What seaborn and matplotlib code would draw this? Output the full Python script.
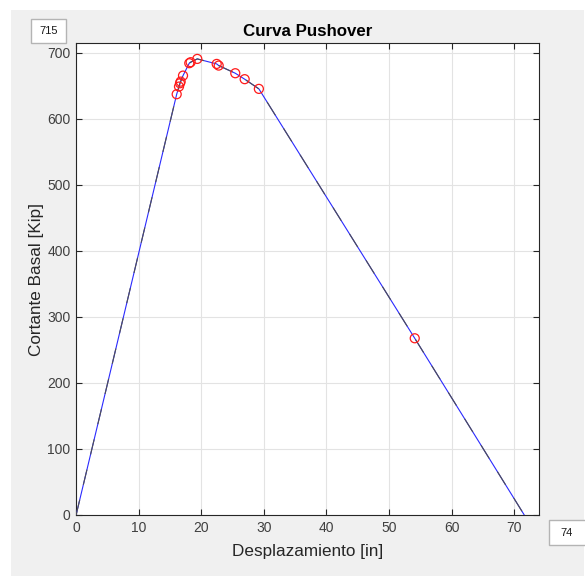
import matplotlib
matplotlib.use("Agg")
import matplotlib.pyplot as plt
from matplotlib.patches import Rectangle
import seaborn as sns
import pandas as pd

# Pushover curve: displacement [in] vs base shear [Kip]
desplazamiento = [0.0, 16.07, 16.44, 16.60, 16.70, 17.08, 18.08, 18.30, 19.36,
                  22.46, 22.78, 25.43, 26.93, 29.20, 54.10, 71.60]
cortante = [0.0, 637.4, 649.0, 654.0, 656.5, 665.6, 684.4, 685.9, 690.9,
            683.3, 680.8, 669.2, 660.2, 645.5, 267.7, 0.0]

# plastic hinge / step markers
puntos_x = [16.07, 16.44, 16.60, 16.70, 17.08, 18.08, 18.30, 19.36,
            22.46, 22.78, 25.43, 26.93, 29.20, 54.10]
puntos_y = [637.4, 649.0, 654.0, 656.5, 665.6, 684.4, 685.9, 690.9,
            683.3, 680.8, 669.2, 660.2, 645.5, 267.7]

x_max = 74
y_max = 715
x_ticks = [0, 10, 20, 30, 40, 50, 60, 70]
y_ticks = [0, 100, 200, 300, 400, 500, 600, 700]

sns.set_theme(style="whitegrid")
plt.rcParams["font.family"] = ["Liberation Sans", "DejaVu Sans"]

W, H = 585, 576
fig = plt.figure(figsize=(W / 100, H / 100), dpi=100, facecolor="white")

# grey window panel
fig.patches.append(Rectangle((11 / W, 0), (584 - 11) / W, (H - 10) / H,
                             transform=fig.transFigure, facecolor="#f0f0f0",
                             edgecolor="none", zorder=-2))

ax = fig.add_axes([76.1 / W, (H - 515) / H, 463.2 / W, 472 / H])
ax.set_zorder(2)
ax.set_facecolor("white")

curva = pd.DataFrame({"d": desplazamiento, "v": cortante})
puntos = pd.DataFrame({"d": puntos_x, "v": puntos_y})

sns.lineplot(data=curva, x="d", y="v", ax=ax, color="#2a2aff", lw=0.8,
             sort=False, estimator=None, zorder=3)
sns.lineplot(data=curva, x="d", y="v", ax=ax, color="#505050", lw=0.8,
             sort=False, estimator=None, zorder=4)
ax.lines[-1].set_dashes((14, 14))
sns.scatterplot(data=puntos, x="d", y="v", ax=ax, s=42, marker="o",
                facecolor="none", edgecolor="#ff1a1a", linewidth=0.9, zorder=5)

ax.set_xlim(0, x_max)
ax.set_ylim(0, y_max)
ax.set_xticks(x_ticks)
ax.set_yticks(y_ticks)

ax.grid(True, color="#e3e3e3", lw=0.8)
for s in ax.spines.values():
    s.set_visible(True)
    s.set_color("#262626")
    s.set_linewidth(0.8)
ax.tick_params(direction="in", length=4, width=0.8, color="#262626",
               labelsize=10, labelcolor="#404040", top=True, right=True,
               bottom=True, left=True, pad=4)

ax.set_title("Curva Pushover", fontsize=12.2, fontweight="bold",
             color="black", pad=5)
ax.set_xlabel("Desplazamiento [in]", fontsize=12.3, color="#262626", labelpad=7)
ax.set_ylabel("Cortante Basal [Kip]", fontsize=12.3, color="#262626", labelpad=2)

# limit edit boxes
for (x0, y0, w, h, tx, txt) in [(31, 19, 35, 24, 48.5, str(y_max)),
                                (549, 520, 40, 25, 567, str(x_max))]:
    fig.patches.append(Rectangle((x0 / W, 1 - (y0 + h) / H), w / W, h / H,
                                 transform=fig.transFigure, facecolor="white",
                                 edgecolor="#b4b4b4", lw=1.0, zorder=-1))
    fig.text(tx / W, 1 - (y0 + h / 2) / H, txt, ha="center", va="center",
             fontsize=8, color="#1a1a1a")

fig.savefig("out.png", dpi=100, facecolor=fig.get_facecolor())
